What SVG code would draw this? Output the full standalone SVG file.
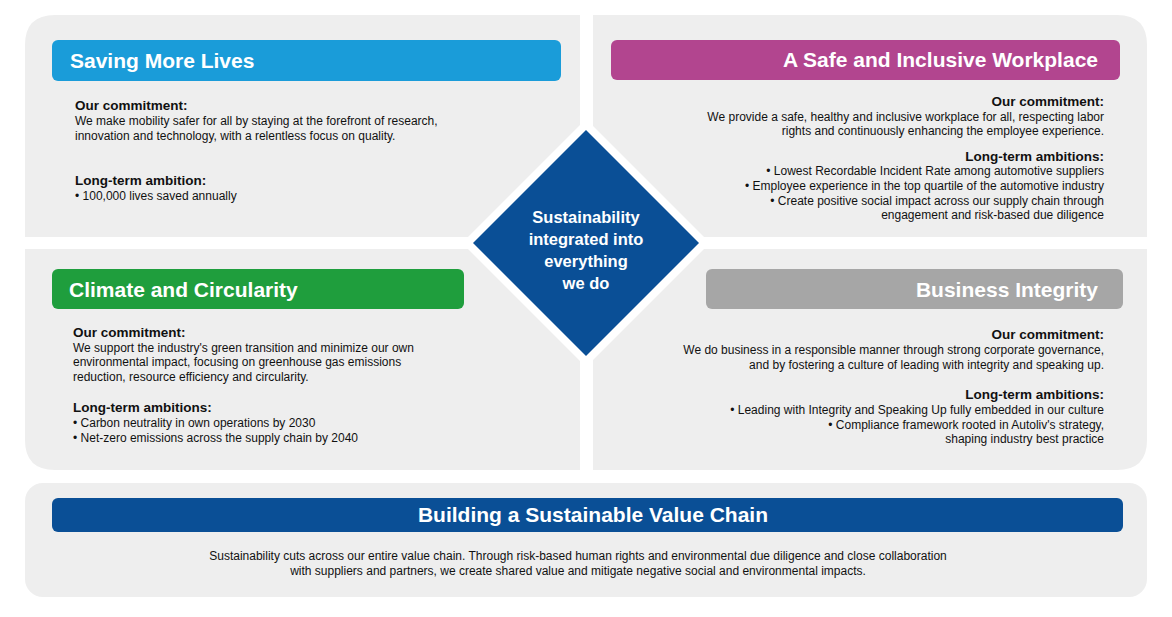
<svg xmlns="http://www.w3.org/2000/svg" width="1172" height="617" viewBox="0 0 1172 617">
<style>
.p{fill:#eeeeee}
.h{font-family:"Liberation Sans",Arial,sans-serif;font-size:21px;font-weight:bold;fill:#fff}
.b{font-family:"Liberation Sans",Arial,sans-serif;font-size:13.5px;font-weight:bold;fill:#111}
.t{font-family:"Liberation Sans",Arial,sans-serif;font-size:12px;fill:#111}
.r{text-anchor:end}
.c{text-anchor:middle}
</style>
<rect width="1172" height="617" fill="#fff"/>
<g id="panels">
<path class="p" d="M25,237 V45 Q25,15 55,15 H580 V237 Z"/>
<path class="p" d="M593,15 H1117 Q1147,15 1147,45 V237 H593 Z"/>
<path class="p" d="M25,249 H580 V470 H55 Q25,470 25,440 Z"/>
<path class="p" d="M593,249 H1147 V440 Q1147,470 1117,470 H593 Z"/>
<polygon points="586,119 710,243 586,367 462,243" fill="#fff"/>
</g>
<g id="saving">
<rect x="52" y="40" width="509" height="41" rx="6" fill="#1a9cd9"/>
<text class="h" x="70" y="68">Saving More Lives</text>
<text class="b" x="75" y="110">Our commitment:</text>
<text class="t" x="75" y="125">We make mobility safer for all by staying at the forefront of research,</text>
<text class="t" x="75" y="140">innovation and technology, with a relentless focus on quality.</text>
<text class="b" x="75" y="185">Long-term ambition:</text>
<text class="t" x="75" y="200">•   100,000 lives saved annually</text>
</g>
<g id="workplace">
<rect x="611" y="40" width="509" height="40" rx="6" fill="#b2458f"/>
<text class="h r" x="1098" y="67">A Safe and Inclusive Workplace</text>
<text class="b r" x="1104" y="106">Our commitment:</text>
<text class="t r" x="1104" y="121">We provide a safe, healthy and inclusive workplace for all, respecting labor</text>
<text class="t r" x="1104" y="135">rights and continuously enhancing the employee experience.</text>
<text class="b r" x="1104" y="161">Long-term ambitions:</text>
<text class="t r" x="1104" y="175">•   Lowest Recordable Incident Rate among automotive suppliers</text>
<text class="t r" x="1104" y="190">•   Employee experience in the top quartile of the automotive industry</text>
<text class="t r" x="1104" y="205">•   Create positive social impact across our supply chain through</text>
<text class="t r" x="1104" y="219">engagement and risk-based due diligence</text>
</g>
<g id="climate">
<rect x="52" y="269" width="412" height="40" rx="6" fill="#1f9e3d"/>
<text class="h" x="69" y="297">Climate and Circularity</text>
<text class="b" x="73" y="337">Our commitment:</text>
<text class="t" x="73" y="352">We support the industry's green transition and minimize our own</text>
<text class="t" x="73" y="366">environmental impact, focusing on greenhouse gas emissions</text>
<text class="t" x="73" y="381">reduction, resource efficiency and circularity.</text>
<text class="b" x="73" y="412">Long-term ambitions:</text>
<text class="t" x="73" y="427">•   Carbon neutrality in own operations by  2030</text>
<text class="t" x="73" y="442">•   Net-zero emissions across the supply chain by 2040</text>
</g>
<g id="integrity">
<rect x="706" y="269" width="417" height="40" rx="6" fill="#a6a6a6"/>
<text class="h r" x="1098" y="297">Business Integrity</text>
<text class="b r" x="1104" y="339">Our commitment:</text>
<text class="t r" x="1104" y="354">We do business in a responsible manner through strong corporate governance,</text>
<text class="t r" x="1104" y="369">and by fostering a culture of leading with integrity and speaking up.</text>
<text class="b r" x="1104" y="399">Long-term ambitions:</text>
<text class="t r" x="1104" y="414">•   Leading with Integrity and Speaking Up fully embedded in our culture</text>
<text class="t r" x="1104" y="429">•   Compliance framework rooted in Autoliv's strategy,</text>
<text class="t r" x="1104" y="443">shaping industry best practice</text>
</g>
<g id="center">
<polygon points="586,130 699,243 586,356 473,243" fill="#0a4f96"/>
<text class="h c" style="font-size:16.5px" x="586" y="223">Sustainability</text>
<text class="h c" style="font-size:16.5px" x="586" y="245">integrated into</text>
<text class="h c" style="font-size:16.5px" x="586" y="267">everything</text>
<text class="h c" style="font-size:16.5px" x="586" y="289">we do</text>
</g>
<g id="valuechain">
<rect class="p" x="25" y="483" width="1122" height="114" rx="18"/>
<rect x="52" y="498" width="1071" height="34" rx="6" fill="#0a4f96"/>
<text class="h c" x="593" y="522">Building a Sustainable Value Chain</text>
<text class="t c" x="578" y="560">Sustainability cuts across our entire value chain. Through risk-based human rights and environmental due diligence and close collaboration</text>
<text class="t c" x="578" y="575">with suppliers and partners, we create shared value and mitigate negative social and environmental impacts.</text>
</g>
<g id="connectors"/>
</svg>
